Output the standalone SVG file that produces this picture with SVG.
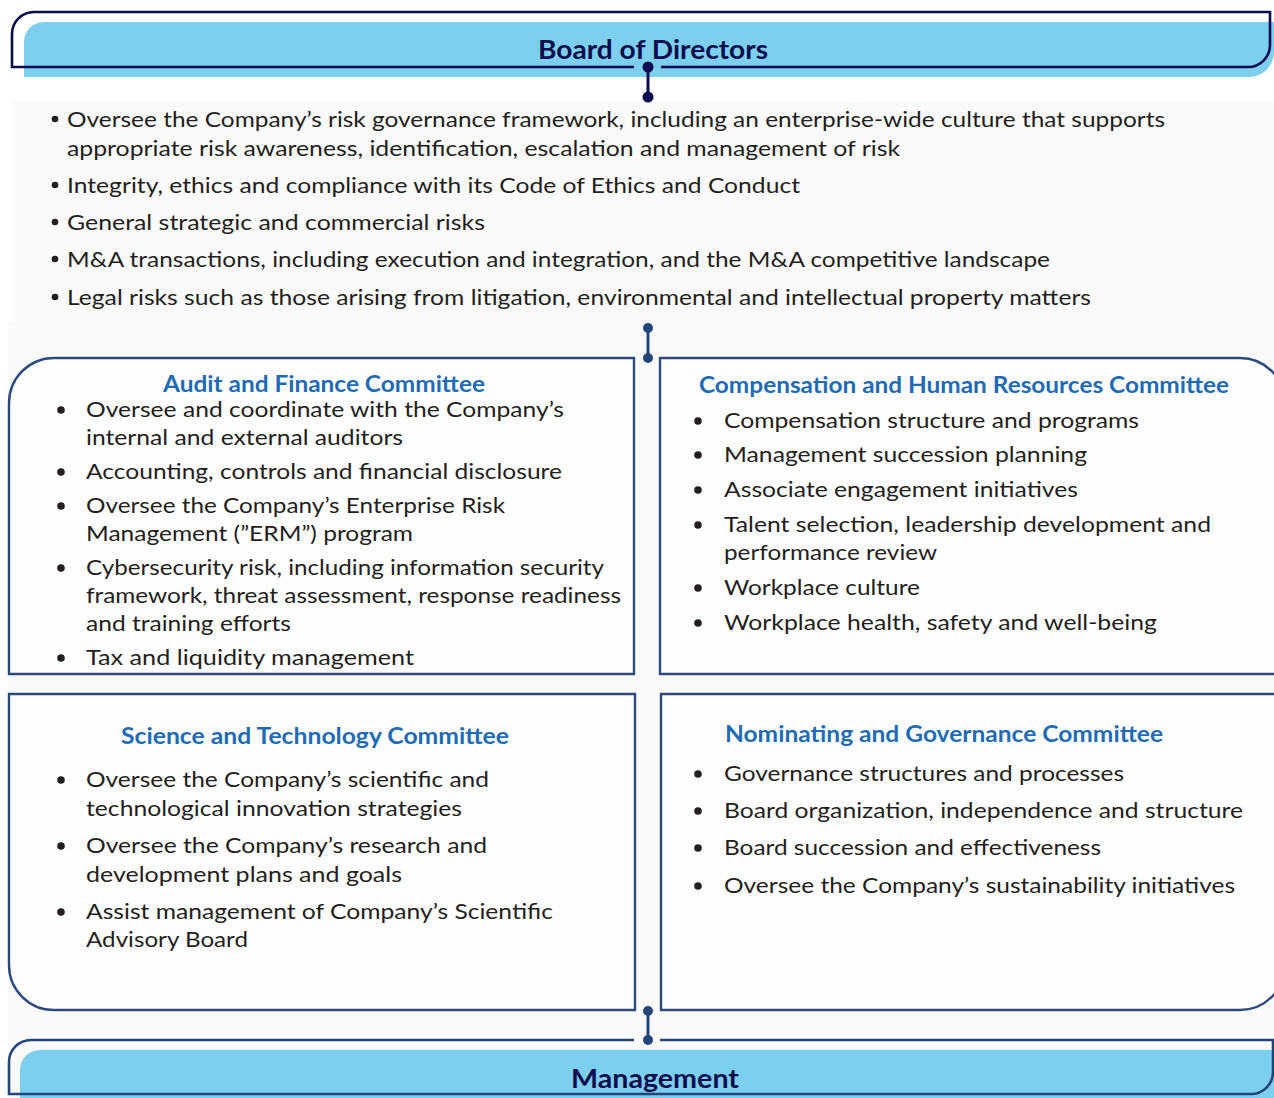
<svg xmlns="http://www.w3.org/2000/svg" width="1274" height="1098" viewBox="0 0 1274 1098">
<style>
.bg{fill:#fafafa}
.hdr{fill:#7dcff0}
.out1{fill:none;stroke:#0b0b4d;stroke-width:2.6}
.out2{fill:none;stroke:#23457a;stroke-width:2.6}
.box{fill:#fefefe;stroke:#2b4a7e;stroke-width:2.4}
.htitle{font-family:Lato,"Liberation Sans",sans-serif;font-weight:bold;font-size:26px;fill:#0d0d4d}
.ctitle{font-family:Lato,"Liberation Sans",sans-serif;font-weight:bold;font-size:22px;fill:#1f6bb5}
.t{font-family:Lato,"Liberation Sans",sans-serif;font-size:22px;fill:#231f20}
.b{fill:#231f20}
.c1{stroke:#0b0b4d;stroke-width:3;fill:none}
.d1{fill:#0b0b4d}
.c2{stroke:#23457a;stroke-width:3;fill:none}
.d2{fill:#23457a}
</style>
<rect width="1274" height="1098" fill="#ffffff"/>
<path class="bg" d="M12 101 H1274 V1098 H8 V322 H12 Z"/>

<g id="board">
<path class="hdr" d="M24 77 V42 A20 20 0 0 1 44 22 H1274 V52 A25 25 0 0 1 1249 77 Z"/>
<path class="out1" d="M634 67 H12 V34 A22 22 0 0 1 34 12 H1270 V45 A22 22 0 0 1 1248 67 H661"/>
<text class="htitle" x="538" y="59" textLength="230" lengthAdjust="spacingAndGlyphs">Board of Directors</text>
</g>

<g id="board-duties">
<circle class="b" cx="55" cy="119" r="3.3"/>
<text class="t" x="67" y="127" textLength="1098" lengthAdjust="spacingAndGlyphs">Oversee the Company’s risk governance framework, including an enterprise-wide culture that supports</text>
<text class="t" x="67" y="156" textLength="833" lengthAdjust="spacingAndGlyphs">appropriate risk awareness, identification, escalation and management of risk</text>
<circle class="b" cx="55" cy="185" r="3.3"/>
<text class="t" x="67" y="193" textLength="733" lengthAdjust="spacingAndGlyphs">Integrity, ethics and compliance with its Code of Ethics and Conduct</text>
<circle class="b" cx="55" cy="222" r="3.3"/>
<text class="t" x="67" y="230" textLength="418" lengthAdjust="spacingAndGlyphs">General strategic and commercial risks</text>
<circle class="b" cx="55" cy="259" r="3.3"/>
<text class="t" x="67" y="267" textLength="983" lengthAdjust="spacingAndGlyphs">M&amp;A transactions, including execution and integration, and the M&amp;A competitive landscape</text>
<circle class="b" cx="55" cy="297" r="3.3"/>
<text class="t" x="67" y="305" textLength="1024" lengthAdjust="spacingAndGlyphs">Legal risks such as those arising from litigation, environmental and intellectual property matters</text>
</g>

<g id="audit">
<path class="box" d="M54 358 H634 V674 H9 V403 A45 45 0 0 1 54 358 Z"/>
<text class="ctitle" x="163" y="392" font-size="21" textLength="322" lengthAdjust="spacingAndGlyphs">Audit and Finance Committee</text>
<circle class="b" cx="61" cy="410" r="3.8"/>
<text class="t" x="86" y="417" textLength="478" lengthAdjust="spacingAndGlyphs">Oversee and coordinate with the Company’s</text>
<text class="t" x="86" y="445" textLength="317" lengthAdjust="spacingAndGlyphs">internal and external auditors</text>
<circle class="b" cx="61" cy="472" r="3.8"/>
<text class="t" x="86" y="479" textLength="476" lengthAdjust="spacingAndGlyphs">Accounting, controls and financial disclosure</text>
<circle class="b" cx="61" cy="506" r="3.8"/>
<text class="t" x="86" y="513" textLength="419" lengthAdjust="spacingAndGlyphs">Oversee the Company’s Enterprise Risk</text>
<text class="t" x="86" y="541" textLength="327" lengthAdjust="spacingAndGlyphs">Management (”ERM”) program</text>
<circle class="b" cx="61" cy="568" r="3.8"/>
<text class="t" x="86" y="575" textLength="518" lengthAdjust="spacingAndGlyphs">Cybersecurity risk, including information security</text>
<text class="t" x="86" y="603" textLength="535" lengthAdjust="spacingAndGlyphs">framework, threat assessment, response readiness</text>
<text class="t" x="86" y="631" textLength="205" lengthAdjust="spacingAndGlyphs">and training efforts</text>
<circle class="b" cx="61" cy="658" r="3.8"/>
<text class="t" x="86" y="665" textLength="328" lengthAdjust="spacingAndGlyphs">Tax and liquidity management</text>
</g>

<g id="compensation">
<path class="box" d="M660 358 H1240 A45 45 0 0 1 1285 403 V674 H660 Z"/>
<text class="ctitle" x="699" y="393" textLength="530" lengthAdjust="spacingAndGlyphs">Compensation and Human Resources Committee</text>
<circle class="b" cx="698" cy="421" r="3.8"/>
<text class="t" x="724" y="428" textLength="415" lengthAdjust="spacingAndGlyphs">Compensation structure and programs</text>
<circle class="b" cx="698" cy="455" r="3.8"/>
<text class="t" x="724" y="462" textLength="363" lengthAdjust="spacingAndGlyphs">Management succession planning</text>
<circle class="b" cx="698" cy="490" r="3.8"/>
<text class="t" x="724" y="497" textLength="354" lengthAdjust="spacingAndGlyphs">Associate engagement initiatives</text>
<circle class="b" cx="698" cy="525" r="3.8"/>
<text class="t" x="724" y="532" textLength="487" lengthAdjust="spacingAndGlyphs">Talent selection, leadership development and</text>
<text class="t" x="724" y="560" textLength="213" lengthAdjust="spacingAndGlyphs">performance review</text>
<circle class="b" cx="698" cy="588" r="3.8"/>
<text class="t" x="724" y="595" textLength="196" lengthAdjust="spacingAndGlyphs">Workplace culture</text>
<circle class="b" cx="698" cy="623" r="3.8"/>
<text class="t" x="724" y="630" textLength="433" lengthAdjust="spacingAndGlyphs">Workplace health, safety and well-being</text>
</g>

<g id="science">
<path class="box" d="M9 694 H635 V1010 H54 A45 45 0 0 1 9 965 Z"/>
<text class="ctitle" x="121" y="744" textLength="388" lengthAdjust="spacingAndGlyphs">Science and Technology Committee</text>
<circle class="b" cx="61" cy="780" r="3.8"/>
<text class="t" x="86" y="787" textLength="403" lengthAdjust="spacingAndGlyphs">Oversee the Company’s scientific and</text>
<text class="t" x="86" y="816" textLength="376" lengthAdjust="spacingAndGlyphs">technological innovation strategies</text>
<circle class="b" cx="61" cy="846" r="3.8"/>
<text class="t" x="86" y="853" textLength="401" lengthAdjust="spacingAndGlyphs">Oversee the Company’s research and</text>
<text class="t" x="86" y="882" textLength="316" lengthAdjust="spacingAndGlyphs">development plans and goals</text>
<circle class="b" cx="61" cy="912" r="3.8"/>
<text class="t" x="86" y="919" textLength="467" lengthAdjust="spacingAndGlyphs">Assist management of Company’s Scientific</text>
<text class="t" x="86" y="947" textLength="162" lengthAdjust="spacingAndGlyphs">Advisory Board</text>
</g>

<g id="nominating">
<path class="box" d="M661 694 H1285 V965 A45 45 0 0 1 1240 1010 H661 Z"/>
<text class="ctitle" x="725" y="742" textLength="438" lengthAdjust="spacingAndGlyphs">Nominating and Governance Committee</text>
<circle class="b" cx="698" cy="774" r="3.8"/>
<text class="t" x="724" y="781" textLength="400" lengthAdjust="spacingAndGlyphs">Governance structures and processes</text>
<circle class="b" cx="698" cy="811" r="3.8"/>
<text class="t" x="724" y="818" textLength="519" lengthAdjust="spacingAndGlyphs">Board organization, independence and structure</text>
<circle class="b" cx="698" cy="848" r="3.8"/>
<text class="t" x="724" y="855" textLength="377" lengthAdjust="spacingAndGlyphs">Board succession and effectiveness</text>
<circle class="b" cx="698" cy="886" r="3.8"/>
<text class="t" x="724" y="893" textLength="511" lengthAdjust="spacingAndGlyphs">Oversee the Company’s sustainability initiatives</text>
</g>

<g id="management">
<path class="hdr" d="M20 1098 V1070 A20 20 0 0 1 40 1050 H1274 V1098 Z"/>
<path class="out2" d="M634 1040 H31 A22 22 0 0 0 9 1062 V1094 H1251 A22 22 0 0 0 1273 1072 V1040 H660"/>
<text class="htitle" x="571" y="1088" textLength="168" lengthAdjust="spacingAndGlyphs">Management</text>
</g>

<g id="connectors">
<line class="c1" x1="648" y1="67" x2="648" y2="97"/>
<circle class="d1" cx="648" cy="67" r="5.5"/>
<circle class="d1" cx="648" cy="97" r="5.5"/>
<line class="c2" x1="648" y1="328" x2="648" y2="358"/>
<circle class="d2" cx="648" cy="328" r="5"/>
<circle class="d2" cx="648" cy="358" r="5"/>
<line class="c2" x1="648" y1="1011" x2="648" y2="1040"/>
<circle class="d2" cx="648" cy="1011" r="5"/>
<circle class="d2" cx="648" cy="1040" r="5"/>
</g>
</svg>
